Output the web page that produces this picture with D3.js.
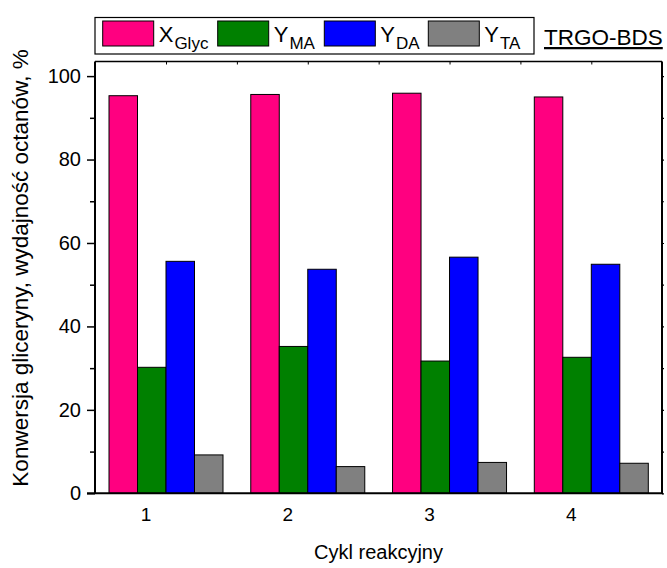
<!DOCTYPE html>
<html>
<head>
<meta charset="utf-8">
<script src="https://cdn.jsdelivr.net/npm/d3@7"></script>
<style>
  html, body { margin: 0; padding: 0; background: #fff; }
  svg { display: block; font-family: "Liberation Sans", Arial, sans-serif; }
</style>
</head>
<body>
<svg id="chart" width="667" height="568"></svg>
<script>
// Reaction cycles and the four measured quantities (%)
const cycles = [1, 2, 3, 4];
const seriesKeys = ["XGlyc", "YMA", "YDA", "YTA"];
const seriesMain = ["X", "Y", "Y", "Y"];
const seriesSub = ["Glyc", "MA", "DA", "TA"];
const seriesColors = ["#FF0080", "#008000", "#0000FF", "#808080"];

const xGlyc = [95.3, 95.6, 95.9, 95.0];
const yMA = [30.2, 35.2, 31.7, 32.6];
const yDA = [55.6, 53.7, 56.6, 54.9];
const yTA = [9.2, 6.4, 7.4, 7.2];

const yTicks = [0, 20, 40, 60, 80, 100];
const yMinorTicks = [10, 30, 50, 70, 90];
const topTicks = [1, 1.5, 2, 2.5, 3, 3.5, 4];

const xTitle = "Cykl reakcyjny";
const yTitle = "Konwersja gliceryny, wydajność octanów, %";
const tag = "TRGO-BDS";

const seriesValues = [xGlyc, yMA, yDA, yTA];
const rows = cycles.map((c, i) => ({
  cycle: c,
  values: seriesKeys.map((k, j) => ({ key: k, value: seriesValues[j][i], color: seriesColors[j] }))
}));

const plot = { left: 95, right: 662, top: 61.5, bottom: 493.3 };
const FONT = "Liberation Sans, Arial, sans-serif";

const svg = d3.select("#chart");

// Group centre for each cycle
const x = d3.scaleLinear().domain([1, 4]).range([166, 591.3]);
// Bars inside a group
const xInner = d3.scaleBand().domain(seriesKeys).range([-57, 57]).padding(0);
const y = d3.scaleLinear().domain([0, 103.5]).range([plot.bottom, plot.top]);

// Bars
const groups = svg.append("g").selectAll("g")
  .data(rows).join("g")
  .attr("transform", d => `translate(${x(d.cycle)},0)`);

groups.selectAll("rect")
  .data(d => d.values).join("rect")
  .attr("x", d => xInner(d.key))
  .attr("width", xInner.bandwidth())
  .attr("y", d => y(d.value))
  .attr("height", d => y(0) - y(d.value))
  .attr("fill", d => d.color)
  .attr("stroke", "#000")
  .attr("stroke-width", 1);

// Left axis: major ticks with labels, minor ticks
const yAxis = d3.axisLeft(y).tickValues(yTicks).tickSize(8).tickPadding(6).tickFormat(d3.format("d"));
const gy = svg.append("g").attr("transform", `translate(${plot.left},0)`).call(yAxis);
gy.select(".domain").remove();
gy.selectAll(".tick line").attr("stroke", "#000").attr("stroke-width", 1.5);
gy.selectAll(".tick text").attr("font-size", 20).attr("fill", "#000").attr("font-family", FONT);

const gyMinor = svg.append("g").attr("transform", `translate(${plot.left},0)`)
  .call(d3.axisLeft(y).tickValues(yMinorTicks).tickSize(5).tickFormat(""));
gyMinor.select(".domain").remove();
gyMinor.selectAll(".tick line").attr("stroke", "#000").attr("stroke-width", 1.5);

// Right axis: small tick marks
const gr = svg.append("g").attr("transform", `translate(${plot.right},0)`)
  .call(d3.axisRight(y).tickValues(yTicks.concat(yMinorTicks)).tickSize(2).tickFormat(""));
gr.select(".domain").remove();
gr.selectAll(".tick line").attr("stroke", "#000").attr("stroke-width", 1.2);

// Top axis: short inward tick marks
const gt = svg.append("g").attr("transform", `translate(0,${plot.top})`)
  .call(d3.axisBottom(x).tickValues(topTicks).tickSize(3).tickFormat(""));
gt.select(".domain").remove();
gt.selectAll(".tick line").attr("stroke", "#000").attr("stroke-width", 1);

// Bottom axis labels
const gx = svg.append("g").attr("transform", `translate(0,${plot.bottom})`)
  .call(d3.axisBottom(x).tickValues(cycles).tickSize(0).tickPadding(14).tickFormat(d3.format("d")));
gx.select(".domain").remove();
gx.selectAll(".tick text").attr("font-size", 19).attr("fill", "#000")
  .attr("dx", -20.5).attr("font-family", FONT);

// Frame
svg.append("line").attr("x1", plot.left).attr("x2", plot.right).attr("y1", plot.top).attr("y2", plot.top)
  .attr("stroke", "#000").attr("stroke-width", 1.5);
svg.append("line").attr("x1", plot.right).attr("x2", plot.right).attr("y1", plot.top).attr("y2", plot.bottom)
  .attr("stroke", "#000").attr("stroke-width", 2);
svg.append("line").attr("x1", plot.left).attr("x2", plot.left).attr("y1", plot.top).attr("y2", plot.bottom)
  .attr("stroke", "#000").attr("stroke-width", 2);
svg.append("line").attr("x1", plot.left - 8).attr("x2", plot.right + 1).attr("y1", plot.bottom).attr("y2", plot.bottom)
  .attr("stroke", "#000").attr("stroke-width", 2);

// Axis titles
svg.append("text")
  .attr("x", (plot.left + plot.right) / 2).attr("y", 559)
  .attr("text-anchor", "middle").attr("font-size", 20).attr("fill", "#000")
  .text(xTitle);

svg.append("text")
  .attr("transform", "translate(28,268) rotate(-90)")
  .attr("text-anchor", "middle").attr("font-size", 22.5).attr("fill", "#000")
  .text(yTitle);

// Legend
const legend = svg.append("g");
legend.append("rect")
  .attr("x", 95).attr("y", 17.5).attr("width", 439).attr("height", 36.5)
  .attr("fill", "#fff").attr("stroke", "#000").attr("stroke-width", 1.2);

const legendX = [102.7, 217.7, 324.3, 428.3];
const items = legend.selectAll("g.item")
  .data(seriesKeys.map((k, i) => ({ key: k, main: seriesMain[i], sub: seriesSub[i], color: seriesColors[i], x: legendX[i] })))
  .join("g").attr("class", "item")
  .attr("transform", d => `translate(${d.x},0)`);

items.append("rect")
  .attr("x", 0).attr("y", 21).attr("width", 51).attr("height", 25)
  .attr("fill", d => d.color).attr("stroke", "#000").attr("stroke-width", 1);

const lt = items.append("text")
  .attr("x", 56).attr("y", 42).attr("font-size", 22).attr("fill", "#000");
lt.append("tspan").text(d => d.main);
lt.append("tspan").attr("dy", 7).attr("dx", 1).attr("font-size", 17).text(d => d.sub);

// Sample tag
svg.append("text")
  .attr("x", 544).attr("y", 45).attr("font-size", 22.5).attr("fill", "#000")
  .attr("text-decoration", "underline")
  .text(tag);
</script>
</body>
</html>
